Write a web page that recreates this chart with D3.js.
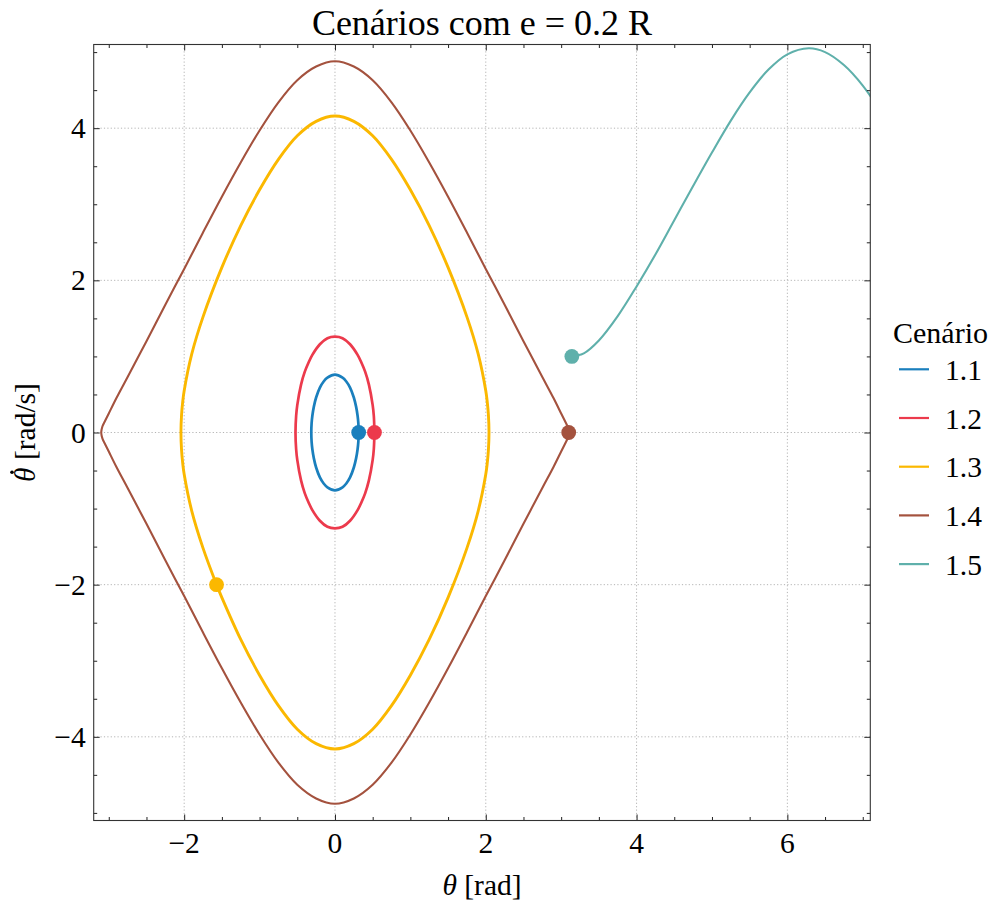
<!DOCTYPE html>
<html><head><meta charset="utf-8">
<script src="https://cdn.jsdelivr.net/npm/d3@7"></script>
<style>
body{margin:0;background:#fff}
text{font-family:"Liberation Serif","Times New Roman",serif;fill:#000}
</style>
</head><body><svg id="c" width="990" height="900"></svg>
<script>
// ---- data ----
const titleText = "Cenários com e = 0.2 R";
const legendTitle = "Cenário";
const scenarios = ["1.1", "1.2", "1.3", "1.4", "1.5"];
const colors = ["#1a7fbd", "#ec3a4c", "#fbb800", "#a4523e", "#5fb0ab"];
const xTicks = [-2, 0, 2, 4, 6];
const yTicks = [-4, -2, 0, 2, 4];

const theta11 = [0.3142,0.31,0.3,0.28,0.25,0.2,0.15,0.1,0,-0.1,-0.15,-0.2,-0.25,-0.28,-0.3,-0.31,-0.3142,-0.31,-0.3,-0.28,-0.25,-0.2,-0.15,-0.1,0,0.1,0.15,0.2,0.25,0.28,0.3,0.31,0.3142];
const omega11 = [0,-0.12,-0.22,-0.34,-0.46,-0.59,-0.67,-0.72,-0.76,-0.72,-0.67,-0.59,-0.46,-0.34,-0.22,-0.12,0,0.12,0.22,0.34,0.46,0.59,0.67,0.72,0.76,0.72,0.67,0.59,0.46,0.34,0.22,0.12,0];

const theta12 = [0.5236,0.515,0.5,0.45,0.4,0.35,0.3,0.2,0.1,0,-0.1,-0.2,-0.3,-0.35,-0.4,-0.45,-0.5,-0.515,-0.5236,-0.515,-0.5,-0.45,-0.4,-0.35,-0.3,-0.2,-0.1,0,0.1,0.2,0.3,0.35,0.4,0.45,0.5,0.515,0.5236];
const omega12 = [0,-0.22,-0.36,-0.63,-0.80,-0.92,-1.02,-1.16,-1.24,-1.26,-1.24,-1.16,-1.02,-0.92,-0.80,-0.63,-0.36,-0.22,0,0.22,0.36,0.63,0.80,0.92,1.02,1.16,1.24,1.26,1.24,1.16,1.02,0.92,0.80,0.63,0.36,0.22,0];

const theta13 = [-1.5708,-1.75,-1.9,-2.0,-2.02,-2.035,-2.0428,-2.035,-2.02,-2.0,-1.9,-1.75,-1.5,-1.25,-1,-0.75,-0.5,-0.25,0,0.25,0.5,0.75,1,1.25,1.5,1.75,1.9,2.0,2.02,2.035,2.0428,2.035,2.02,2.0,1.9,1.75,1.5,1.25,1,0.75,0.5,0.25,0,-0.25,-0.5,-0.75,-1,-1.25,-1.5,-1.5708];
const omega13 = [-2.0,-1.52,-1.03,-0.55,-0.40,-0.23,0,0.23,0.40,0.55,1.03,1.52,2.17,2.72,3.19,3.59,3.90,4.09,4.16,4.09,3.90,3.59,3.19,2.72,2.17,1.52,1.03,0.55,0.40,0.23,0,-0.23,-0.40,-0.55,-1.03,-1.52,-2.17,-2.72,-3.19,-3.59,-3.90,-4.09,-4.16,-4.09,-3.90,-3.59,-3.19,-2.72,-2.17,-2.0];

const theta14 = [3.1,3.095,3.09,3.08,3.05,3,2.9,2.75,2.5,2.25,2,1.75,1.5,1.25,1,0.75,0.5,0.25,0,-0.25,-0.5,-0.75,-1,-1.25,-1.5,-1.75,-2,-2.25,-2.5,-2.75,-2.9,-3,-3.05,-3.08,-3.09,-3.095,-3.1,-3.095,-3.09,-3.08,-3.05,-3,-2.9,-2.75,-2.5,-2.25,-2,-1.75,-1.5,-1.25,-1,-0.75,-0.5,-0.25,0,0.25,0.5,0.75,1,1.25,1.5,1.75,2,2.25,2.5,2.75,2.9,3,3.05,3.08,3.09,3.095,3.1];
const omega14 = [0,-0.04,-0.06,-0.09,-0.15,-0.25,-0.45,-0.73,-1.20,-1.68,-2.15,-2.63,-3.10,-3.55,-3.97,-4.34,-4.63,-4.81,-4.88,-4.81,-4.63,-4.34,-3.97,-3.55,-3.10,-2.63,-2.15,-1.68,-1.20,-0.73,-0.45,-0.25,-0.15,-0.09,-0.06,-0.04,0,0.04,0.06,0.09,0.15,0.25,0.45,0.73,1.20,1.68,2.15,2.63,3.10,3.55,3.97,4.34,4.63,4.81,4.88,4.81,4.63,4.34,3.97,3.55,3.10,2.63,2.15,1.68,1.20,0.73,0.45,0.25,0.15,0.09,0.06,0.04,0];

const theta15 = [3.1416,3.2,3.3,3.5,3.75,4,4.25,4.5,4.75,5,5.25,5.5,5.75,6,6.283,6.5,6.75,7,7.25];
const omega15 = [1.00,1.01,1.04,1.21,1.53,1.92,2.34,2.79,3.24,3.68,4.10,4.47,4.77,4.97,5.05,5.00,4.83,4.56,4.20];

const seriesTheta = [theta11, theta12, theta13, theta14, theta15];
const seriesOmega = [omega11, omega12, omega13, omega14, omega15];
const seriesWidth = [2.7, 2.7, 2.9, 2.1, 2.1];

// ---- layout ----
const L = 93.7, R = 870.3, T = 44.5, B = 820.5;
const svg = d3.select("#c");
const x = d3.scaleLinear().domain([-3.2, 7.1]).range([L, R]);
const y = d3.scaleLinear().domain([-5.1, 5.1]).range([B, T]);

svg.append("defs").append("clipPath").attr("id", "clip")
  .append("rect").attr("x", L).attr("y", T).attr("width", R - L).attr("height", B - T);

// grid
const grid = svg.append("g").attr("stroke", "#b4b4b4").attr("stroke-width", 1).attr("stroke-dasharray", "1.2,2.2");
xTicks.forEach(v => grid.append("line").attr("x1", x(v)).attr("x2", x(v)).attr("y1", T).attr("y2", B));
yTicks.forEach(v => grid.append("line").attr("y1", y(v)).attr("y2", y(v)).attr("x1", L).attr("x2", R));

// curves
const plot = svg.append("g").attr("clip-path", "url(#clip)");
const line = d3.line().x(d => x(d[0])).y(d => y(d[1])).curve(d3.curveCatmullRom.alpha(0.5));
scenarios.forEach((s, i) => {
  const pts = seriesTheta[i].map((t, j) => [t, seriesOmega[i][j]]);
  plot.append("path").attr("d", line(pts)).attr("fill", "none")
    .attr("stroke", colors[i]).attr("stroke-width", seriesWidth[i]).attr("stroke-linejoin", "round");
});
scenarios.forEach((s, i) => {
  plot.append("circle").attr("cx", x(seriesTheta[i][0])).attr("cy", y(seriesOmega[i][0]))
    .attr("r", 7.4).attr("fill", colors[i]);
});

// axes (inward ticks on all sides)
const tickFmt = d => d3.format("")(d);
const minorX = d3.range(-3, 7.01, 0.5).filter(v => !xTicks.includes(v));
const minorY = d3.range(-5, 5.01, 0.5).filter(v => !yTicks.includes(v));
const ax = svg.append("g");
function inward(axisGen, tr) {
  const g = ax.append("g").attr("transform", tr).call(axisGen);
  g.select(".domain").remove();
  g.selectAll("text").remove();
  g.selectAll("line").attr("stroke", "#222").attr("stroke-width", 1);
}
inward(d3.axisBottom(x).tickValues(xTicks).tickSizeInner(-6), `translate(0,${B})`);
inward(d3.axisBottom(x).tickValues(minorX).tickSizeInner(-3.5), `translate(0,${B})`);
inward(d3.axisTop(x).tickValues(xTicks).tickSizeInner(-6), `translate(0,${T})`);
inward(d3.axisTop(x).tickValues(minorX).tickSizeInner(-3.5), `translate(0,${T})`);
inward(d3.axisLeft(y).tickValues(yTicks).tickSizeInner(-6), `translate(${L},0)`);
inward(d3.axisLeft(y).tickValues(minorY).tickSizeInner(-3.5), `translate(${L},0)`);
inward(d3.axisRight(y).tickValues(yTicks).tickSizeInner(-6), `translate(${R},0)`);
inward(d3.axisRight(y).tickValues(minorY).tickSizeInner(-3.5), `translate(${R},0)`);
svg.append("rect").attr("x", L).attr("y", T).attr("width", R - L).attr("height", B - T)
  .attr("fill", "none").attr("stroke", "#333").attr("stroke-width", 1.1);

// tick labels
const fs = 29.5;
xTicks.forEach(v => svg.append("text").attr("x", x(v)).attr("y", B + 32)
  .attr("text-anchor", "middle").attr("font-size", fs).text(tickFmt(v)));
yTicks.forEach(v => svg.append("text").attr("x", L - 8).attr("y", y(v) + 10)
  .attr("text-anchor", "end").attr("font-size", fs).text(tickFmt(v)));

// axis labels
const xl = svg.append("text").attr("x", (L + R) / 2).attr("y", 895).attr("text-anchor", "middle").attr("font-size", fs);
xl.append("tspan").attr("font-style", "italic").text("θ");
xl.append("tspan").text(" [rad]");

const yg = svg.append("g").attr("transform", `translate(35,${(T + B) / 2}) rotate(-90)`);
const yl = yg.append("text").attr("text-anchor", "middle").attr("font-size", fs);
yl.append("tspan").attr("font-style", "italic").text("θ");
yl.append("tspan").text(" [rad/s]");
// dot accent above θ
const p0 = yl.node().getStartPositionOfChar(0), p1 = yl.node().getEndPositionOfChar(0);
yg.append("circle").attr("cx", (p0.x + p1.x) / 2 + 2.5).attr("cy", -fs * 0.78).attr("r", 1.8).attr("fill", "#000");

// title
svg.append("text").attr("x", (L + R) / 2).attr("y", 35).attr("text-anchor", "middle")
  .attr("font-size", 36).text(titleText);

// legend
svg.append("text").attr("x", 940.5).attr("y", 343).attr("text-anchor", "middle").attr("font-size", 30).text(legendTitle);
scenarios.forEach((s, i) => {
  const yy = 369.3 + i * 48.7;
  svg.append("line").attr("x1", 899).attr("x2", 929).attr("y1", yy).attr("y2", yy)
    .attr("stroke", colors[i]).attr("stroke-width", 2.2);
  svg.append("text").attr("x", 945).attr("y", yy + 10.5).attr("font-size", fs).text(s);
});
</script>
</body></html>
